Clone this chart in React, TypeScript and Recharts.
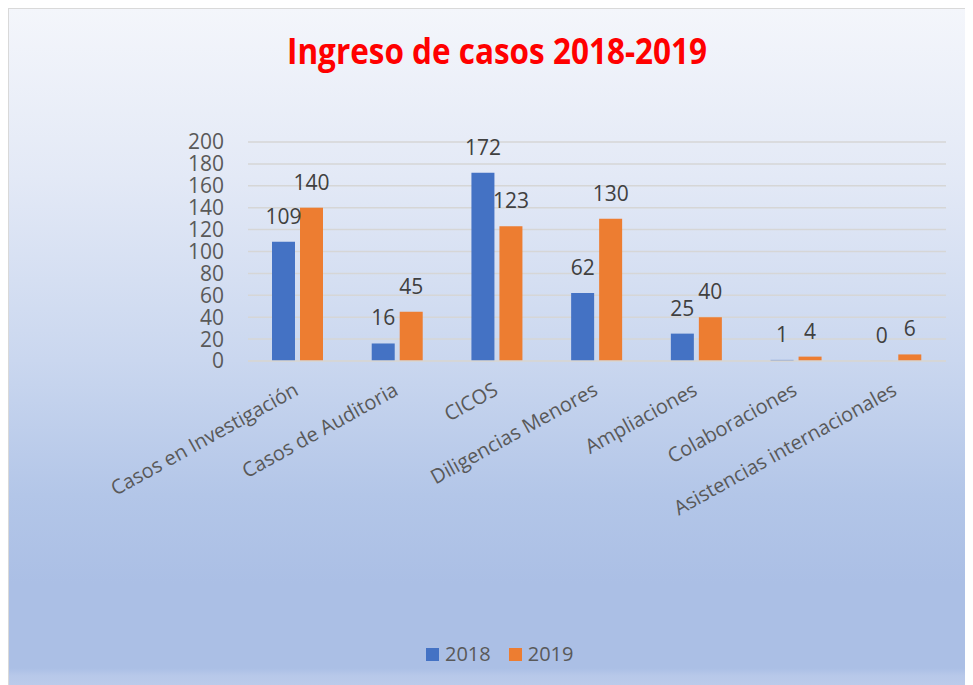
import React from "react";
import { BarChart, Bar, XAxis, YAxis, CartesianGrid, LabelList } from "recharts";

const categories = [
  "Casos en Investigación",
  "Casos de Auditoria",
  "CICOS",
  "Diligencias Menores",
  "Ampliaciones",
  "Colaboraciones",
  "Asistencias internacionales",
];
const values2018 = [109, 16, 172, 62, 25, 1, 0];
const values2019 = [140, 45, 123, 130, 40, 4, 6];
const yTicks = [0, 20, 40, 60, 80, 100, 120, 140, 160, 180, 200];
const seriesNames = ["2018", "2019"];
const seriesColors = ["#4472C4", "#ED7D31"];
const title = "Ingreso de casos 2018-2019";

const data = categories.map((c, i) => ({ name: c, y2018: values2018[i], y2019: values2019[i] }));

const FONT = "'Open Sans', 'Noto Sans', sans-serif";

const XTick = (props: any) => {
  const { x, y, payload } = props;
  const ax = x + 2;
  const ay = y + 25;
  return (
    <text
      x={ax}
      y={ay}
      transform={`rotate(-29 ${ax} ${ay})`}
      textAnchor="end"
      fill="#595959"
      fontSize={20}
      fontFamily={FONT}
    >
      {payload.value}
    </text>
  );
};

const zeroMin = (value: any) => (value === 0 ? 0.05 : 0);

export default function App() {
  return (
    <div
      style={{
        position: "relative",
        width: 965,
        height: 677,
        background:
          "linear-gradient(to bottom, #f4f6fb 0%, #e3e9f6 25%, #cad7ef 52%, #b3c6e8 72%, #abbfe5 85%, #abbfe5 97.5%, #b7c8e9 98.6%, #bccbea 100%)",
        overflow: "hidden",
      }}
    >
      <div
        style={{
          position: "absolute",
          left: 0,
          top: 0,
          width: 965,
          height: 677,
          borderLeft: "1px solid #d9d9d9",
          borderTop: "1px solid #d9d9d9",
          boxSizing: "border-box",
          pointerEvents: "none",
        }}
      />
      <svg style={{ position: "absolute", left: 0, top: 0 }} width={965} height={90}>
        <text
          x={279}
          y={56}
          textLength={420}
          lengthAdjust="spacingAndGlyphs"
          fill="#FF0000"
          fontWeight="bold"
          fontSize={35}
          fontFamily="'Liberation Sans Narrow', 'Open Sans', sans-serif"
        >
          {title}
        </text>
      </svg>
      <BarChart
        width={965}
        height={677}
        data={data}
        margin={{ top: 134, right: 27, left: 180, bottom: 0 }}
        barGap={5}
        barSize={23}
        style={{ position: "absolute", left: 0, top: 0 }}
      >
        <CartesianGrid vertical={false} stroke="#d6d6d6" strokeWidth={1.5} />
        <XAxis
          dataKey="name"
          height={324}
          interval={0}
          tickLine={false}
          axisLine={{ stroke: "#d6d6d6", strokeWidth: 1.5 }}
          tick={<XTick />}
        />
        <YAxis
          width={60}
          domain={[0, 200]}
          ticks={yTicks}
          interval={0}
          tickLine={false}
          axisLine={false}
          tickMargin={18}
          tick={{ fill: "#595959", fontSize: 21, fontFamily: FONT }}
        />
        <Bar
          dataKey="y2018"
          name={seriesNames[0]}
          fill={seriesColors[0]}
          minPointSize={zeroMin}
          isAnimationActive={false}
        >
          <LabelList dataKey="y2018" position="top" offset={18} fill="#404040" fontSize={21} fontFamily={FONT} />
        </Bar>
        <Bar
          dataKey="y2019"
          name={seriesNames[1]}
          fill={seriesColors[1]}
          minPointSize={zeroMin}
          isAnimationActive={false}
        >
          <LabelList dataKey="y2019" position="top" offset={18} fill="#404040" fontSize={21} fontFamily={FONT} />
        </Bar>
      </BarChart>
      <div
        style={{
          position: "absolute",
          top: 634,
          left: 418,
          display: "flex",
          alignItems: "center",
          fontFamily: FONT,
          fontSize: 20,
          color: "#595959",
          lineHeight: "24px",
        }}
      >
        {seriesNames.map((n, i) => (
          <div key={n} style={{ display: "flex", alignItems: "center", marginRight: i === 0 ? 18 : 0 }}>
            <span style={{ display: "inline-block", width: 13, height: 13, background: seriesColors[i], marginRight: 6 }} />
            <span>{n}</span>
          </div>
        ))}
      </div>
    </div>
  );
}
